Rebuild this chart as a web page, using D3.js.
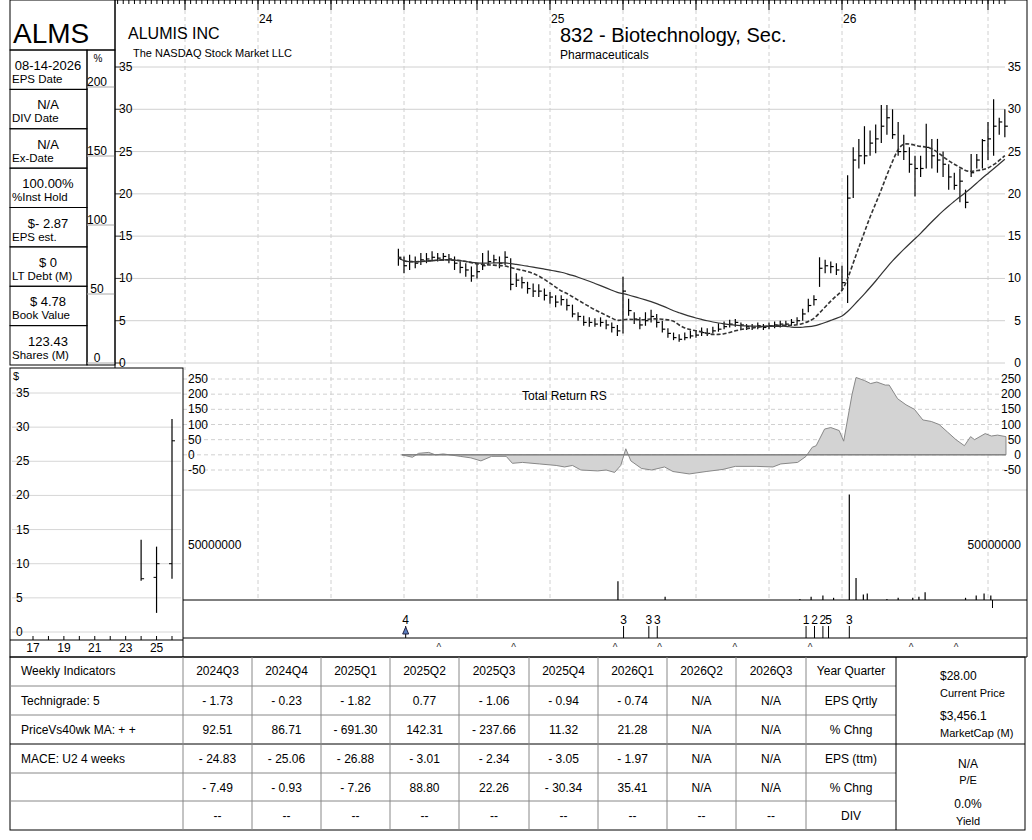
<!DOCTYPE html>
<html><head><meta charset="utf-8">
<script src="https://cdn.jsdelivr.net/npm/d3@7"></script>
<style>body{margin:0;background:#fff}svg{font-family:"Liberation Sans",Arial,sans-serif}</style>
</head><body><svg id="c" width="1032" height="840"></svg>
<script>
// ---------- DATA ----------
const firstWeek = 25; // weeks since 2024-01-01
const highs = [13.5,12.6,12.8,12.6,13.0, 13.0,13.2,13.0,13.0,12.9, 12.6,12.0,11.8,11.4,11.8, 13.0,13.3,12.8,12.6,13.2, 12.4,10.6,10.2,9.6,9.4, 9.3,8.8,8.4,8.0,8.0, 7.6,6.9,6.0,5.6,5.4, 5.3,5.4,5.1,4.8,4.5, 10.2,7.6,6.0,5.4,6.0, 6.3,5.8,5.0,4.1,3.6, 3.4,3.6,3.8,3.9,4.2, 4.1,4.3,4.7,4.9,5.1, 5.2,4.8,4.6,4.6,4.8, 4.6,4.8,4.9,5.0,5.0, 5.2,5.4,6.4,7.6,8.0, 12.5,12.2,12.0,11.8,11.5, 22.2,25.5,26.5,28.0,27.5, 28.2,30.5,30.5,30.0,28.5, 27.0,25.5,24.5,24.5,28.3, 26.5,26.5,25.0,23.5,22.5, 23.0,20.5,24.7,24.7,26.5, 28.5,31.2,29.0,30.0];
const lows  = [11.5,10.6,11.0,11.2,11.6, 11.8,12.0,12.0,12.1,11.8, 11.0,10.6,10.2,9.6,10.0, 11.0,11.6,11.8,11.2,11.6, 8.6,9.0,8.8,8.2,7.8, 7.8,7.4,7.0,6.6,6.8, 6.2,5.4,5.0,4.4,4.3, 4.3,4.3,4.0,3.6,3.2, 3.5,5.6,4.6,4.0,4.4, 4.8,4.2,3.6,3.0,2.7, 2.5,2.7,2.9,3.0,3.2, 3.2,3.5,3.7,4.0,4.2, 4.3,4.0,3.9,3.9,4.0, 3.9,4.0,4.1,4.2,4.3, 4.4,4.6,5.0,6.0,6.8, 9.0,10.6,10.6,10.4,8.5, 7.1,19.5,23.0,23.5,24.5, 24.8,26.0,27.0,26.5,24.5, 24.0,22.5,19.7,22.0,23.0, 23.0,22.5,22.0,20.5,20.5, 19.0,18.3,22.0,23.0,23.0, 24.0,24.5,27.0,26.7];
const closes= [12.5,11.5,12.0,11.8,12.2, 12.3,12.5,12.4,12.6,12.3, 11.8,11.3,11.0,10.3,10.8, 11.5,12.0,12.2,11.8,12.5, 9.3,9.8,9.5,8.8,8.5, 8.5,8.0,7.8,7.2,7.5, 6.8,5.8,5.5,4.8,4.8, 4.6,4.8,4.5,4.2,3.8, 8.5,6.2,5.2,4.5,5.0, 5.5,4.8,4.0,3.5,3.0, 2.8,3.0,3.2,3.3,3.6, 3.5,3.8,4.0,4.3,4.6, 4.8,4.5,4.3,4.2,4.4, 4.2,4.4,4.5,4.6,4.6, 4.8,5.0,5.8,6.8,7.5, 11.2,11.5,11.4,11.0,9.5, 19.5,24.0,24.5,24.5,26.0, 26.5,28.0,29.0,27.0,25.0, 25.0,23.5,23.0,23.0,25.5, 24.5,24.0,23.5,22.0,21.0, 21.5,19.0,22.5,24.0,26.3, 26.5,28.0,28.5,28.0];
const rsWeeks = [25.6,27.5,28.6,30.4,31.6,33.0,36.0,37.9,39.7,41.6,44.2,45.3,47.1,50.1,53.1,54.6,56.0,57.5,60.5,62.0,63.5,64.6,65.5,66.4,68.3,70.1,72.4,73.9,76.8,79.8,82.8,85.0,88.7,91.7,93.1,96.1,97.6,98.7,99.4,100.9,102.0,103.5,104.3,105.8,106.5,108.0,109.1,110.2,111.7,112.4,113.9,115.4,116.9,118.4,119.9,121.3,122.8,124.3,125.8,126.9,127.6,129.5,130.6,131.7,133.2];
const rsVals  = [0,-8,5,8,0,3,-5,-10,-20,-5,-5,-28,-25,-30,-35,-40,-35,-50,-53,-50,-58,-35,20,-20,-45,-50,-40,-55,-63,-55,-48,-38,-38,-40,-30,-25,-5,25,30,85,90,80,45,200,255,245,235,240,230,230,185,165,150,115,110,100,75,50,30,60,50,70,62,65,60];
const volWeeks = [64.1,72.5,96.5,98.5,100.6,102.5,105.3,106.5,107.8,108.5,112,114,116.6,117.7,118.8,126,127.9,129.3,130.5];
const volM     = [17,3,1,3,4,2,96,20,5,6,1,2,2,3,7,2,4,6,4];
const evWeeks = [26.3,65.1,69.6,71.1,97.6,99.1,100.6,101.6,105.3];
const evLabels = ["4","3","3","3","1","2","2","5","3"];
const caretWeeks = [32.2,45.5,63.6,71.5,84.9,98.3,116.3,124.3];
const yearLabels = ["24","25","26"];
const smallYears = [24,25,26], smallHi=[13.5,12.5,31.2], smallLo=[7.5,2.8,7.8], smallOpen=[null,8,10], smallClose=[7.8,10,28];
const infoVals = ["08-14-2026","N/A","N/A","100.00%","$- 2.87","$ 0","$ 4.78","123.43"];
const infoLabels = ["EPS Date","DIV Date","Ex-Date","%Inst Hold","EPS est.","LT Debt (M)","Book Value","Shares (M)"];
const quarters = ["2024Q3","2024Q4","2025Q1","2025Q2","2025Q3","2025Q4","2026Q1","2026Q2","2026Q3"];
const rowLabels = ["Technigrade: 5","PriceVs40wk MA:  + +","MACE: U2  4 weeks","",""];
const rowRight = ["EPS Qrtly","% Chng","EPS (ttm)","% Chng","DIV"];
const tableRows = [
 ["- 1.73","- 0.23","- 1.82","0.77","- 1.06","- 0.94","- 0.74","N/A","N/A"],
 ["92.51","86.71","- 691.30","142.31","- 237.66","11.32","21.28","N/A","N/A"],
 ["- 24.83","- 25.06","- 26.88","- 3.01","- 2.34","- 3.05","- 1.97","N/A","N/A"],
 ["- 7.49","- 0.93","- 7.26","88.80","22.26","- 30.34","35.41","N/A","N/A"],
 ["--","--","--","--","--","--","--","--","--"]];

// ---------- DRAW ----------
const svg = d3.select("#c");
const X0=115, X1=1027, PR=1005;
const x = d3.scaleLinear().domain([0,52]).range([258,550]);
const wMin = x.invert(X0), wMax = x.invert(PR);
const yP = d3.scaleLinear().domain([0,35]).range([363,67]);
const yR = d3.scaleLinear().domain([-50,250]).range([470,379]);
const yV = d3.scaleLinear().domain([0,50]).range([600,545]);
const g = svg.append("g");
const grid="#d0d0d0";

const qWeeks = d3.range(-26,140,13).filter(w=>w>wMin&&w<wMax);
qWeeks.forEach(w=>{
  g.append("line").attr("x1",x(w)).attr("x2",x(w)).attr("y1",10).attr("y2",370).attr("stroke",grid).attr("stroke-dasharray","4,3");
  if(x(w)>186) g.append("line").attr("x1",x(w)).attr("x2",x(w)).attr("y1",370).attr("y2",600).attr("stroke",grid).attr("stroke-dasharray","4,3");
});
d3.range(0,36,5).forEach(v=>{
  g.append("line").attr("x1",X0).attr("x2",PR).attr("y1",yP(v)).attr("y2",yP(v)).attr("stroke",grid);
  g.append("line").attr("x1",X0).attr("x2",X0+6).attr("y1",yP(v)).attr("y2",yP(v)).attr("stroke","#444");
  g.append("text").attr("x",119).attr("y",yP(v)+4).attr("font-size",12).text(v);
  g.append("text").attr("x",1021).attr("y",yP(v)+4).attr("font-size",12).attr("text-anchor","end").text(v);
});
d3.range(Math.ceil(wMin),Math.floor(wMax)+1).forEach(w=>g.append("line").attr("x1",x(w)).attr("x2",x(w)).attr("y1",0).attr("y2",4).attr("stroke","#000"));
qWeeks.forEach(w=>g.append("line").attr("x1",x(w)).attr("x2",x(w)).attr("y1",0).attr("y2",10).attr("stroke","#000"));
yearLabels.forEach((t,i)=>g.append("text").attr("x",x(52*i)+1).attr("y",23).attr("font-size",12).text(t));
g.append("text").attr("x",128).attr("y",39).attr("font-size",16).text("ALUMIS INC");
g.append("text").attr("x",133).attr("y",57).attr("font-size",11).text("The NASDAQ Stock Market LLC");
g.append("text").attr("x",560).attr("y",42).attr("font-size",20).text("832 - Biotechnology, Sec.");
g.append("text").attr("x",560).attr("y",59).attr("font-size",12).text("Pharmaceuticals");

const weeks = closes.map((c,i)=>firstWeek+i);
const bars = g.append("g").attr("stroke","#000").attr("stroke-width",1.2);
weeks.forEach((w,i)=>{
  const xx=x(w);
  bars.append("line").attr("x1",xx).attr("x2",xx).attr("y1",yP(highs[i])).attr("y2",yP(lows[i]));
  bars.append("line").attr("x1",xx).attr("x2",xx+3).attr("y1",yP(closes[i])).attr("y2",yP(closes[i]));
});
function ma(n){return closes.map((c,i)=>d3.mean(closes.slice(Math.max(0,i-n+1),i+1)));}
const line = d3.line().x((d,i)=>x(weeks[i])).y(d=>yP(d)).curve(d3.curveBasis);
g.append("path").attr("d",line(ma(30))).attr("fill","none").attr("stroke","#333").attr("stroke-width",1.2);
g.append("path").attr("d",line(ma(10))).attr("fill","none").attr("stroke","#333").attr("stroke-width",1.6).attr("stroke-dasharray","4,2");

d3.range(-50,251,50).forEach(v=>{
  g.append("line").attr("x1",183).attr("x2",PR).attr("y1",yR(v)).attr("y2",yR(v)).attr("stroke",grid).attr("stroke-dasharray","4,3");
  g.append("text").attr("x",188).attr("y",yR(v)+4).attr("font-size",12).text(v);
  g.append("text").attr("x",1021).attr("y",yR(v)+4).attr("font-size",12).attr("text-anchor","end").text(v);
});
const area = d3.area().x((d,i)=>x(rsWeeks[i])).y0(yR(0)).y1(d=>yR(d));
g.append("path").attr("d",area(rsVals)).attr("fill","#d3d3d3").attr("stroke","#888");
g.append("line").attr("x1",x(rsWeeks[0])).attr("x2",x(rsWeeks[rsWeeks.length-1])).attr("y1",yR(0)).attr("y2",yR(0)).attr("stroke","#777");
g.append("text").attr("x",522).attr("y",400).attr("font-size",12).text("Total Return RS");
g.append("line").attr("x1",183).attr("x2",X1).attr("y1",490).attr("y2",490).attr("stroke",grid);

g.append("text").attr("x",188).attr("y",yV(50)+4).attr("font-size",12).text("50000000");
g.append("text").attr("x",1021).attr("y",yV(50)+4).attr("font-size",12).attr("text-anchor","end").text("50000000");
volWeeks.forEach((w,i)=>g.append("line").attr("x1",x(w)).attr("x2",x(w)).attr("y1",yV(0)).attr("y2",yV(volM[i])).attr("stroke","#000").attr("stroke-width",1.2));
g.append("line").attr("x1",x(130.8)).attr("x2",x(130.8)).attr("y1",600).attr("y2",608).attr("stroke","#000");
g.append("line").attr("x1",183).attr("x2",X1).attr("y1",600).attr("y2",600).attr("stroke","#000");
g.append("line").attr("x1",183).attr("x2",X1).attr("y1",638).attr("y2",638).attr("stroke","#000");
evWeeks.forEach((w,i)=>{
  g.append("line").attr("x1",x(w)).attr("x2",x(w)).attr("y1",626).attr("y2",638).attr("stroke","#000");
  g.append("text").attr("x",x(w)).attr("y",624).attr("font-size",12).attr("text-anchor","middle").text(evLabels[i]);
});
g.append("path").attr("d",`M${x(evWeeks[0])-3},634 L${x(evWeeks[0])},627 L${x(evWeeks[0])+3},634Z`).attr("fill","#5b7fc0").attr("stroke","#224");
caretWeeks.forEach(w=>g.append("text").attr("x",x(w)).attr("y",651).attr("font-size",10).attr("text-anchor","middle").attr("fill","#333").text("^"));

g.append("rect").attr("x",10).attr("y",0).attr("width",105).attr("height",50).attr("fill","none").attr("stroke","#000");
g.append("text").attr("x",13).attr("y",43).attr("font-size",28).text("ALMS");
const rowH=(365-50)/8;
infoVals.forEach((v,i)=>{
  const y0=50+i*rowH;
  g.append("rect").attr("x",10).attr("y",y0).attr("width",77).attr("height",rowH).attr("fill","none").attr("stroke","#000");
  g.append("text").attr("x",48).attr("y",y0+20).attr("font-size",13).attr("text-anchor","middle").text(v);
  g.append("text").attr("x",12).attr("y",y0+33).attr("font-size",11.5).text(infoLabels[i]);
});
g.append("rect").attr("x",87).attr("y",50).attr("width",28).attr("height",315).attr("fill","none").attr("stroke","#000");
g.append("text").attr("x",98).attr("y",62).attr("font-size",10).attr("text-anchor","middle").text("%");
const yPct=d3.scaleLinear().domain([0,200]).range([359,83]);
[0,50,100,150,200].forEach(v=>{
  g.append("line").attr("x1",87).attr("x2",115).attr("y1",yPct(v)+4).attr("y2",yPct(v)+4).attr("stroke","#aaa");
  g.append("text").attr("x",97).attr("y",yPct(v)+3).attr("font-size",12).attr("text-anchor","middle").text(v);
});

const sx=d3.scaleLinear().domain([17,26]).range([33,172]);
const sy=d3.scaleLinear().domain([0,35]).range([632,393]);
d3.range(0,36,5).forEach(v=>{
  g.append("line").attr("x1",12).attr("x2",181).attr("y1",sy(v)).attr("y2",sy(v)).attr("stroke","#d6d6d6");
  g.append("text").attr("x",16).attr("y",sy(v)+4).attr("font-size",12).text(v);
});
g.append("text").attr("x",13).attr("y",380).attr("font-size",11).text("$");
d3.range(17,27).forEach(yr=>g.append("line").attr("x1",sx(yr)).attr("x2",sx(yr)).attr("y1",636).attr("y2",640).attr("stroke","#000"));
[17,19,21,23,25].forEach(yr=>g.append("text").attr("x",sx(yr)).attr("y",652).attr("font-size",12).attr("text-anchor","middle").text(yr));
smallYears.forEach((yr,i)=>{
  const xx=sx(yr);
  g.append("line").attr("x1",xx).attr("x2",xx).attr("y1",sy(smallHi[i])).attr("y2",sy(smallLo[i])).attr("stroke","#000").attr("stroke-width",1.2);
  if(smallOpen[i]!=null) g.append("line").attr("x1",xx-3).attr("x2",xx).attr("y1",sy(smallOpen[i])).attr("y2",sy(smallOpen[i])).attr("stroke","#000");
  g.append("line").attr("x1",xx).attr("x2",xx+3).attr("y1",sy(smallClose[i])).attr("y2",sy(smallClose[i])).attr("stroke","#000");
});
g.append("rect").attr("x",10).attr("y",368).attr("width",173).attr("height",289).attr("fill","#fff").attr("fill-opacity",0).attr("stroke","#000");
g.append("line").attr("x1",10).attr("x2",183).attr("y1",640).attr("y2",640).attr("stroke","#000");
// main frame (left edge only down to the small chart)
g.append("path").attr("d",`M${X0},368 L${X0},0 L${X1},0 L${X1},657 L183,657`).attr("fill","none").attr("stroke","#000");

const cols=[183,252,321,390,459,529,598,667,736,806,896];
const rowsY=[657,686,715,744,773,801,830];
const tb=g.append("g").attr("font-size",12);
tb.append("rect").attr("x",10).attr("y",657).attr("width",1015).attr("height",173).attr("fill","none").attr("stroke","#000");
rowsY.slice(1,-1).forEach(y=>tb.append("line").attr("x1",10).attr("x2",896).attr("y1",y).attr("y2",y).attr("stroke",y===744?"#000":"#888"));
cols.slice(0,-1).forEach(c=>tb.append("line").attr("x1",c).attr("x2",c).attr("y1",657).attr("y2",830).attr("stroke","#888"));
tb.append("line").attr("x1",896).attr("x2",896).attr("y1",657).attr("y2",830).attr("stroke","#000");
tb.append("line").attr("x1",896).attr("x2",1025).attr("y1",744).attr("y2",744).attr("stroke","#000");
tb.append("text").attr("x",21).attr("y",675).text("Weekly Indicators");
quarters.forEach((q,i)=>tb.append("text").attr("x",(cols[i]+cols[i+1])/2).attr("y",675).attr("text-anchor","middle").text(q));
tb.append("text").attr("x",851).attr("y",675).attr("text-anchor","middle").text("Year Quarter");
tableRows.forEach((r,j)=>{
  const y=rowsY[j+1]+19;
  tb.append("text").attr("x",21).attr("y",y).text(rowLabels[j]);
  r.forEach((v,i)=>tb.append("text").attr("x",(cols[i]+cols[i+1])/2).attr("y",y).attr("text-anchor","middle").text(v));
  tb.append("text").attr("x",851).attr("y",y).attr("text-anchor","middle").text(rowRight[j]);
});
[["$28.00",680,12],["Current Price",697,11],["$3,456.1",720,12],["MarketCap (M)",737,11]].forEach(d=>tb.append("text").attr("x",940).attr("y",d[1]).attr("font-size",d[2]).text(d[0]));
[["N/A",768,12],["P/E",784,11],["0.0%",808,12],["Yield",825,11]].forEach(d=>tb.append("text").attr("x",968).attr("y",d[1]).attr("font-size",d[2]).attr("text-anchor","middle").text(d[0]));
</script></body></html>
